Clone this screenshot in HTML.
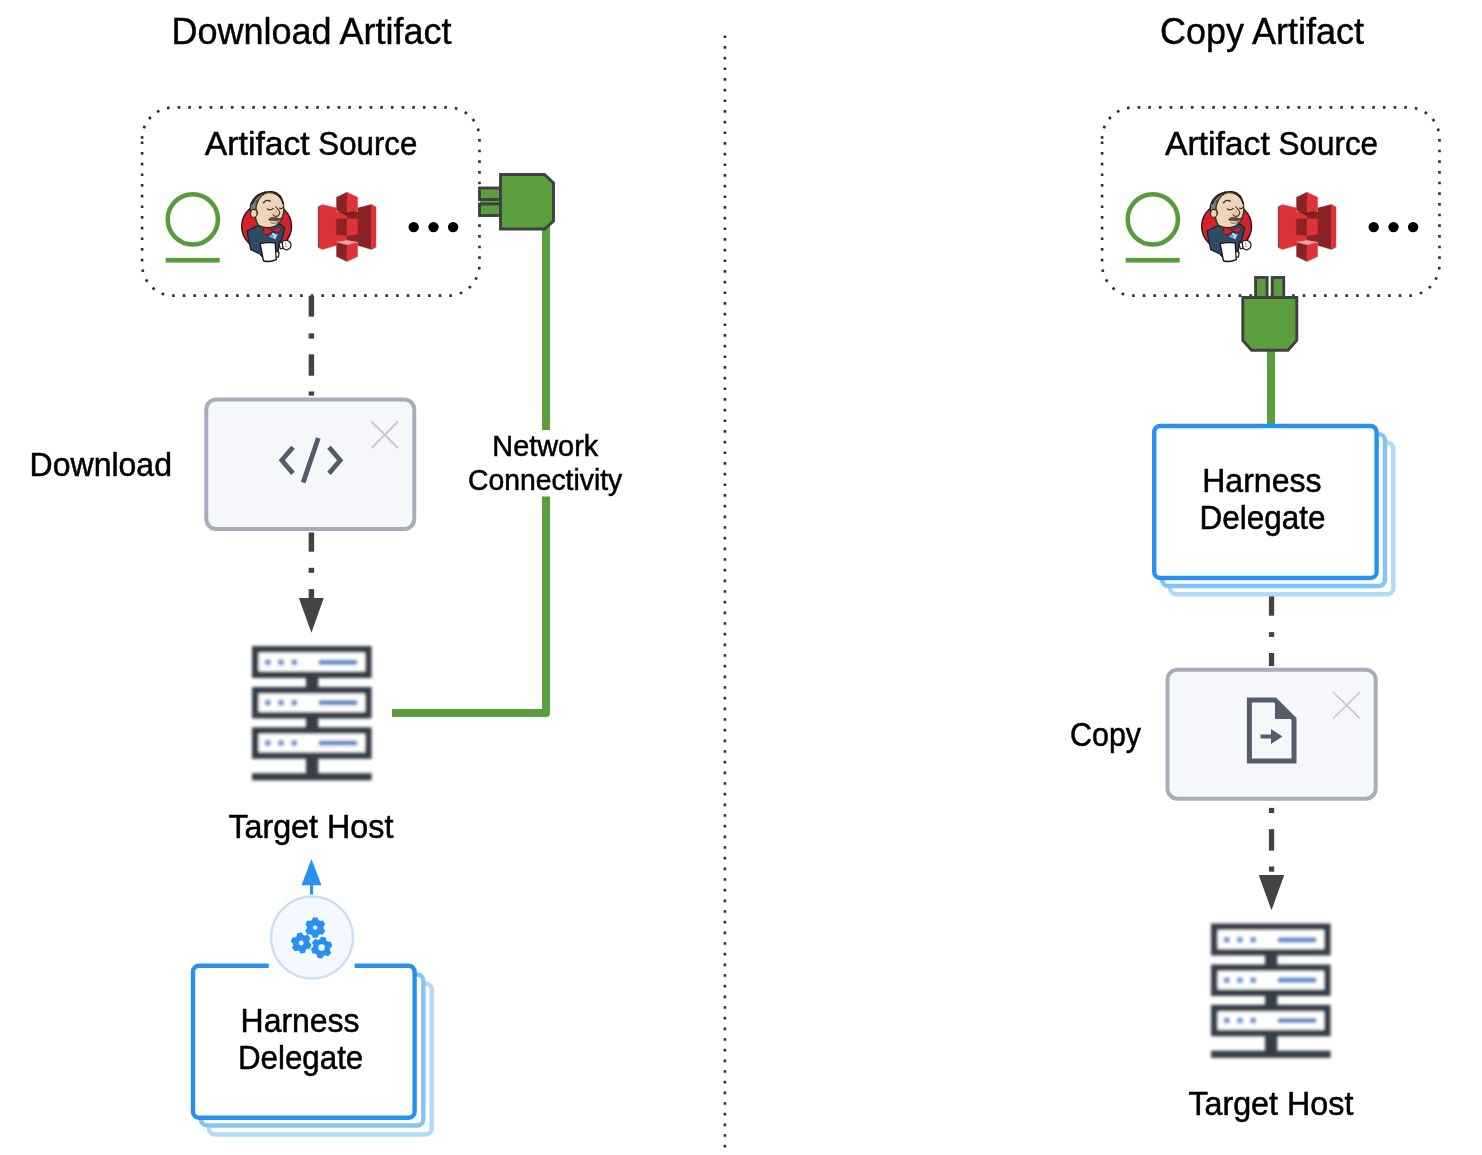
<!DOCTYPE html>
<html>
<head>
<meta charset="utf-8">
<title>Download Artifact vs Copy Artifact</title>
<style>
  html, body { margin: 0; padding: 0; background: #ffffff; }
  body { width: 1482px; height: 1155px; overflow: hidden; }
  svg { display: block; will-change: transform; }
  text { font-family: "Liberation Sans", sans-serif; fill: #000; }
  text.r { stroke: #000; stroke-width: 0.5px; }
  text.t { stroke: #000; stroke-width: 0.4px; }
</style>
</head>
<body>
<svg width="1482" height="1155" viewBox="0 0 1482 1155">
  <defs>
    <filter id="soft" x="-5%" y="-5%" width="110%" height="110%"><feGaussianBlur stdDeviation="5.5"/></filter>
    <filter id="soft3" x="-5%" y="-5%" width="110%" height="110%"><feGaussianBlur stdDeviation="0.5"/></filter>
    <filter id="soft2" x="-5%" y="-5%" width="110%" height="110%"><feGaussianBlur stdDeviation="1.35"/></filter>
    <!-- ===== reusable: artifact source icons row (drawn for left box; origin 0,0 = page origin) ===== -->
    <g id="srcbox">
      <!-- dotted rounded rectangle -->
      <path d="M142.1 138.6 V138.70000000000002 A31.3 31.3 0 0 1 173.4 107.4 H448.2 A31.3 31.3 0 0 1 479.5 138.70000000000002 V264.4 A31.3 31.3 0 0 1 448.2 295.7 H173.4 A31.3 31.3 0 0 1 142.1 264.4 Z"
            fill="none" stroke="#333333" stroke-width="2.67" stroke-dasharray="2.667 8"/>
      <!-- green ring + underline -->
      <circle cx="192.8" cy="219.3" r="25.1" fill="none" stroke="#559c3a" stroke-width="4.5"/>
      <rect x="165.7" y="257.9" width="54" height="4.7" fill="#559c3a"/>
      <!-- jenkins -->
      <g transform="translate(235,185) scale(0.07184)" filter="url(#soft)">
        <ellipse cx="440" cy="575" rx="347" ry="332" fill="#d3202f" stroke="#3a1418" stroke-width="20"/>
        <!-- suit -->
        <path d="M168 640 L330 560 L630 545 L692 600 L650 760 L610 800 L600 1000 L380 1000 L340 955 L218 900 Z" fill="#2f4b65" stroke="#182431" stroke-width="18" stroke-linejoin="round"/>
        <!-- hair back -->
        <path d="M218 390 C185 250 270 125 430 100 L360 340 Z" fill="#7f7d80" stroke="#262224" stroke-width="18" stroke-linejoin="round"/>
        <!-- head -->
        <path d="M330 560 C250 470 275 200 400 128 C500 78 645 125 678 290 C692 400 645 520 560 570 C480 602 380 602 330 560 Z" fill="#f0d6b8" stroke="#3a2a25" stroke-width="17" stroke-linejoin="round"/>
        <!-- hair top stroke -->
        <path d="M240 260 C290 130 420 82 520 97 C605 112 655 180 672 255" fill="none" stroke="#262224" stroke-width="24" stroke-linecap="round"/>
        <path d="M300 215 C282 285 298 350 318 398" fill="none" stroke="#57545a" stroke-width="16" stroke-linecap="round"/>
        <!-- ear -->
        <ellipse cx="262" cy="395" rx="46" ry="56" fill="#f0d6b8" stroke="#3a2a25" stroke-width="17"/>
        <!-- eyes / brows -->
        <path d="M395 250 C420 212 460 207 492 224" fill="none" stroke="#3a2a25" stroke-width="17" stroke-linecap="round"/>
        <path d="M448 333 C480 352 512 347 532 325" fill="none" stroke="#3a2a25" stroke-width="17" stroke-linecap="round"/>
        <path d="M618 320 C640 334 656 330 670 312" fill="none" stroke="#3a2a25" stroke-width="15" stroke-linecap="round"/>
        <!-- nose -->
        <path d="M565 300 C605 340 650 385 605 425 C572 450 540 432 528 410" fill="#e6c4a0" stroke="#5a4034" stroke-width="15" stroke-linecap="round"/>
        <!-- moustache -->
        <path d="M465 482 C498 436 560 448 602 463 C622 468 642 458 654 446 C644 494 600 504 560 498 C530 494 498 504 465 482 Z" fill="#5c473b" stroke="#5c473b" stroke-width="8"/>
        <path d="M500 524 C540 540 590 530 622 502" fill="none" stroke="#8a6a55" stroke-width="15" stroke-linecap="round"/>
        <!-- shirt -->
        <path d="M455 720 L530 665 L612 680 L565 768 Z" fill="#6fa6cf" stroke="#22364a" stroke-width="12" stroke-linejoin="round"/>
        <path d="M522 672 L560 702 L550 742" fill="none" stroke="#f4f4f4" stroke-width="18"/>
        <!-- bow tie -->
        <path d="M395 590 C440 585 480 610 520 635 C560 610 590 590 625 585 C640 610 630 645 610 655 C580 660 550 650 525 645 C500 665 450 700 415 690 C395 660 390 620 395 590 Z" fill="#d3202f" stroke="#6a0c14" stroke-width="12" stroke-linejoin="round"/>
        <!-- mug -->
        <path d="M350 815 C420 800 500 800 560 805 L575 1040 C520 1065 440 1070 395 1055 Z" fill="#ffffff" stroke="#19191d" stroke-width="20" stroke-linejoin="round"/>
        <path d="M574 925 L615 940 L605 1000 L580 1005" fill="#f2f2f2" stroke="#19191d" stroke-width="16" stroke-linejoin="round"/>
        <!-- cuff + glove -->
        <path d="M612 810 L655 795 L670 880 L632 890 Z" fill="#ffffff" stroke="#19191d" stroke-width="15" stroke-linejoin="round"/>
        <path d="M655 790 C700 760 760 770 775 810 C790 850 770 890 730 900 C700 905 675 890 668 875 Z" fill="#ffffff" stroke="#19191d" stroke-width="17" stroke-linejoin="round"/>
        <path d="M690 810 L720 830 M700 855 L725 860" stroke="#444" stroke-width="10" fill="none"/>
      </g>
      <!-- amazon s3 -->
      <g transform="translate(312,185) scale(0.07187)" filter="url(#soft)">
        <path d="M85 305 L108 290 V880 L85 865 Z" fill="#8c2328" stroke="#8c2328" stroke-width="5" stroke-linejoin="round"/>
        <path d="M108 290 L145 272 L335 318 V842 L145 897 L108 880 Z" fill="#de3239" stroke="#de3239" stroke-width="5" stroke-linejoin="round"/>
        <path d="M640 318 L830 272 V897 L640 842 Z" fill="#8c2328" stroke="#8c2328" stroke-width="5" stroke-linejoin="round"/>
        <path d="M830 272 L890 305 V865 L830 897 Z" fill="#de3239" stroke="#de3239" stroke-width="5" stroke-linejoin="round"/>
        <rect x="333" y="370" width="155" height="420" fill="#de3239" stroke="#de3239" stroke-width="5" stroke-linejoin="round"/>
        <rect x="487" y="370" width="155" height="420" fill="#8c2328" stroke="#8c2328" stroke-width="5" stroke-linejoin="round"/>
        <!-- top cube -->
        <path d="M340 170 L487 100 V388 L340 352 Z" fill="#8c2328" stroke="#8c2328" stroke-width="5" stroke-linejoin="round"/>
        <path d="M487 100 L635 170 V352 L487 388 Z" fill="#de3239" stroke="#de3239" stroke-width="5" stroke-linejoin="round"/>
        <path d="M340 352 L487 388 L635 352 L487 425 Z" fill="#7a1d22" stroke="#7a1d22" stroke-width="5" stroke-linejoin="round"/>
        <!-- middle cube -->
        <path d="M340 478 L487 465 V702 L340 690 Z" fill="#8c2328" stroke="#8c2328" stroke-width="5" stroke-linejoin="round"/>
        <path d="M487 465 L635 478 V690 L487 702 Z" fill="#de3239" stroke="#de3239" stroke-width="5" stroke-linejoin="round"/>
        <!-- bottom cube -->
        <path d="M340 800 L487 768 L635 800 L487 834 Z" fill="#f0a3a3" stroke="#f0a3a3" stroke-width="5" stroke-linejoin="round"/>
        <path d="M340 800 L487 834 V1066 L340 996 Z" fill="#8c2328" stroke="#8c2328" stroke-width="5" stroke-linejoin="round"/>
        <path d="M487 834 L635 800 V996 L487 1066 Z" fill="#de3239" stroke="#de3239" stroke-width="5" stroke-linejoin="round"/>
      </g>
      <!-- ellipsis -->
      <circle cx="413.7" cy="227.1" r="5.2" fill="#000"/>
      <circle cx="433.5" cy="227.1" r="5.2" fill="#000"/>
      <circle cx="453.1" cy="227.1" r="5.2" fill="#000"/>
    </g>

    <!-- server icon, origin at its top-left (252,646) -->
    <g id="server">
      <g filter="url(#soft2)">
        <rect x="54" y="28" width="12.3" height="102" fill="#363c47"/>
        <rect x="0" y="127.2" width="119.6" height="7.2" fill="#363c47"/>
        <g fill="#ffffff" stroke="#363c47" stroke-width="6.6">
          <rect x="3.3" y="3.3" width="113" height="25.4"/>
          <rect x="3.3" y="44.3" width="113" height="24.9"/>
          <rect x="3.3" y="84.6" width="113" height="24.9"/>
        </g>
        <g fill="#6f9bca">
          <circle cx="15.8" cy="16.3" r="3.2"/><circle cx="29" cy="16.3" r="3.2"/><circle cx="42.2" cy="16.3" r="3.2"/>
          <circle cx="15.8" cy="56.7" r="3.2"/><circle cx="29" cy="56.7" r="3.2"/><circle cx="42.2" cy="56.7" r="3.2"/>
          <circle cx="15.8" cy="97" r="3.2"/><circle cx="29" cy="97" r="3.2"/><circle cx="42.2" cy="97" r="3.2"/>
        </g>
        <g stroke="#5a8bc2" stroke-width="5.2" stroke-linecap="round">
          <line x1="69" y1="16.3" x2="103" y2="16.3"/>
          <line x1="69" y1="56.7" x2="103" y2="56.7"/>
          <line x1="69" y1="97" x2="103" y2="97"/>
        </g>
      </g>
    </g>
  </defs>

  <rect x="0" y="0" width="1482" height="1155" fill="#ffffff"/>

  <!-- centre divider -->
  <line x1="724.9" y1="35.4" x2="724.9" y2="1150" stroke="#333" stroke-width="2.7" stroke-dasharray="2.667 8.001"/>

  <!-- ================= LEFT: Download Artifact ================= -->
  <text class="t" transform="matrix(1 0 0 1.035 0 -1.536)" x="171.4" y="43.9" font-size="36">Download Artifact</text>

  <use href="#srcbox"/>
  <text class="r" transform="matrix(1 0 0 1.03 0 -4.644)" x="204.80" y="154.8" font-size="32" textLength="104.94" lengthAdjust="spacingAndGlyphs">Artifact</text><text class="r" transform="matrix(1 0 0 1.03 0 -4.644)" x="318.36" y="154.8" font-size="32" textLength="98.92" lengthAdjust="spacingAndGlyphs">Source</text>

  <!-- green connectivity line -->
  <path d="M546 226 V713 H392" fill="none" stroke="#5b9e3d" stroke-width="8" stroke-linejoin="round"/>
  <!-- plug (side) -->
  <g stroke="#404040" stroke-width="2.9" fill="#5b9e3d" stroke-linejoin="miter">
    <rect x="480" y="196" width="20" height="10" stroke="none"/>
    <rect x="479.5" y="188" width="21" height="11.5"/>
    <rect x="479.5" y="204" width="21" height="11.5"/>
    <path d="M500.5 174.5 H544.5 L553.5 183 V221 L544.5 229 H500.5 Z"/>
  </g>
  <!-- label background + label -->
  <rect x="466" y="430" width="160" height="66.5" fill="#ffffff"/>
  <text class="r" transform="matrix(1 0 0 1.03 0 -13.668)" x="492.35" y="455.6" font-size="27.8" textLength="105.89" lengthAdjust="spacingAndGlyphs">Network</text>
  <text class="r" transform="matrix(1 0 0 1.03 0 -14.715)" x="467.98" y="490.5" font-size="27.8" textLength="154.25" lengthAdjust="spacingAndGlyphs">Connectivity</text>

  <!-- dash-dot arrow: source -> download -> host -->
  <g fill="#434345"><rect x="308.65" y="295.8" width="5.5" height="20.8"/><rect x="308.65" y="333.3" width="5.5" height="5.3"/><rect x="308.65" y="354.3" width="5.5" height="21.4"/><rect x="308.65" y="391.5" width="5.5" height="4.1"/><rect x="308.65" y="532.5" width="5.5" height="19.2"/><rect x="308.65" y="567.8" width="5.5" height="5.0"/><rect x="308.65" y="589.1" width="5.5" height="9.5"/>
    <path d="M298.9 598.1 H323.8 L311.4 632.7 Z"/></g>

  <!-- download step box -->
  <g filter="url(#soft3)">
  <rect x="206.3" y="399.5" width="208" height="129.5" rx="10" ry="10" fill="#f5f7fb" stroke="#a7adba" stroke-width="4"/>
  <g fill="none" stroke="#535a68" stroke-width="4.8" stroke-linecap="butt" stroke-linejoin="miter">
    <path d="M293 447.2 L281.8 460.3 L293 473.4"/>
    <path d="M329 447.2 L340.2 460.3 L329 473.4"/>
    <path d="M318.3 438 L303.2 482.5"/>
  </g>
  <path d="M371.5 421.5 L398 448 M398 421.5 L371.5 448" stroke="#c6c9d1" stroke-width="1.8" fill="none"/>
    </g>
  <text class="r" transform="matrix(1 0 0 1.03 0 -14.271)" x="29.62" y="475.7" font-size="32" textLength="142.36" lengthAdjust="spacingAndGlyphs">Download</text>

  <!-- target host -->
  <use href="#server" x="252" y="646"/>
  <text class="r" transform="matrix(1 0 0 1.03 0 -25.134)" x="228.41" y="837.8" font-size="32" textLength="89.59" lengthAdjust="spacingAndGlyphs">Target</text><text class="r" transform="matrix(1 0 0 1.03 0 -25.134)" x="327.00" y="837.8" font-size="32" textLength="66.39" lengthAdjust="spacingAndGlyphs">Host</text>

  <!-- delegate (stacked) -->
  <g fill="#ffffff" stroke-width="4.4">
    <rect x="209" y="983.5" width="222.7" height="151" rx="6" stroke="#afdafa"/>
    <rect x="201" y="974.5" width="222.3" height="151" rx="6" stroke="#84c4f7"/>
    <rect x="193" y="965.8" width="221.6" height="151.9" rx="6" stroke="#2890f0"/>
  </g>
  <rect x="268.7" y="894" width="86" height="90" fill="#ffffff"/>
  <circle cx="312" cy="937.5" r="41" fill="#f3f9fe" stroke="#c8dff6" stroke-width="2.4"/>
<g fill="#2890f0" stroke="#2890f0" stroke-width="1.6" stroke-linejoin="round" fill-rule="evenodd">
  <path d="M312.78 920.40 L313.30 918.19 L317.10 918.19 L317.62 920.40 L320.23 921.90 L322.40 921.25 L324.30 924.54 L322.65 926.10 L322.65 929.10 L324.30 930.66 L322.40 933.95 L320.23 933.30 L317.62 934.80 L317.10 937.01 L313.30 937.01 L312.78 934.80 L310.17 933.30 L308.00 933.95 L306.10 930.66 L307.75 929.10 L307.75 926.10 L306.10 924.54 L308.00 921.25 L310.17 921.90 Z M318.20 927.60 A3.0 3.0 0 1 0 312.20 927.60 A3.0 3.0 0 1 0 318.20 927.60 Z"/>
  <path d="M297.56 936.33 L297.70 934.06 L301.43 933.40 L302.34 935.49 L305.16 936.51 L307.19 935.50 L309.63 938.40 L308.28 940.23 L308.80 943.19 L310.69 944.44 L309.39 948.00 L307.14 947.74 L304.84 949.67 L304.70 951.94 L300.97 952.60 L300.06 950.51 L297.24 949.49 L295.21 950.50 L292.77 947.60 L294.12 945.77 L293.60 942.81 L291.71 941.56 L293.01 938.00 L295.26 938.26 Z M304.40 943.00 A3.2 3.2 0 1 0 298.00 943.00 A3.2 3.2 0 1 0 304.40 943.00 Z"/>
  <path d="M320.42 939.79 L321.36 937.60 L325.25 938.29 L325.38 940.66 L327.77 942.67 L330.14 942.39 L331.49 946.10 L329.50 947.41 L328.96 950.48 L330.38 952.39 L327.84 955.42 L325.72 954.34 L322.78 955.41 L321.84 957.60 L317.95 956.91 L317.82 954.54 L315.43 952.53 L313.06 952.81 L311.71 949.10 L313.70 947.79 L314.24 944.72 L312.82 942.81 L315.36 939.78 L317.48 940.86 Z M325.70 947.60 A4.1 4.1 0 1 0 317.50 947.60 A4.1 4.1 0 1 0 325.70 947.60 Z"/>
</g>
  <path d="M311.5 859 L321.5 885.2 H301.5 Z" fill="#2890f0"/>
  <rect x="310" y="884" width="3" height="10.5" fill="#2890f0"/>
  <text class="r" transform="matrix(1 0 0 1.03 0 -30.957)" x="240.58" y="1031.9" font-size="32" textLength="118.99" lengthAdjust="spacingAndGlyphs">Harness</text>
  <text class="r" transform="matrix(1 0 0 1.03 0 -32.058)" x="238.00" y="1068.6" font-size="32" textLength="125.28" lengthAdjust="spacingAndGlyphs">Delegate</text>

  <!-- ================= RIGHT: Copy Artifact ================= -->
  <text class="t" transform="matrix(1 0 0 1.035 0 -1.536)" x="1159.9" y="43.9" font-size="36">Copy Artifact</text>

  <use href="#srcbox" x="960" y="0"/>
  <text class="r" transform="matrix(1 0 0 1.03 0 -4.647)" x="1164.89" y="154.9" font-size="32" textLength="104.99" lengthAdjust="spacingAndGlyphs">Artifact</text><text class="r" transform="matrix(1 0 0 1.03 0 -4.647)" x="1278.62" y="154.9" font-size="32" textLength="99.48" lengthAdjust="spacingAndGlyphs">Source</text>

  <!-- plug (down) + green line -->
  <line x1="1271" y1="350" x2="1271" y2="425" stroke="#5b9e3d" stroke-width="8"/>
  <g stroke="#404040" stroke-width="2.9" fill="#5b9e3d" stroke-linejoin="miter">
    <rect x="1255.6" y="277.5" width="11.5" height="20"/>
    <rect x="1272.2" y="277.5" width="11.5" height="20"/>
    <path d="M1242.8 297.5 H1296.8 V340.5 L1288 350.3 H1251.6 L1242.8 340.5 Z"/>
  </g>

  <rect x="1268.9" y="590" width="5.3" height="25.7" fill="#434345"/>
  <!-- delegate (stacked) -->
  <g fill="#ffffff" stroke-width="4.4">
    <rect x="1170.2" y="442.8" width="223.1" height="151.4" rx="6" stroke="#afdafa"/>
    <rect x="1162.2" y="434.2" width="222.8" height="151.8" rx="6" stroke="#84c4f7"/>
    <rect x="1154.2" y="426" width="222.4" height="152" rx="6" stroke="#2890f0"/>
  </g>
  <text class="r" transform="matrix(1 0 0 1.03 0 -14.757)" x="1202.22" y="491.9" font-size="32" textLength="119.28" lengthAdjust="spacingAndGlyphs">Harness</text>
  <text class="r" transform="matrix(1 0 0 1.03 0 -15.858)" x="1199.43" y="528.6" font-size="32" textLength="126.01" lengthAdjust="spacingAndGlyphs">Delegate</text>

  <!-- dash-dot arrow -->
  <g fill="#434345"><rect x="1268.9" y="632.1" width="5.3" height="4.8"/><rect x="1268.9" y="653" width="5.3" height="13.1"/><rect x="1268.9" y="807.9" width="5.3" height="5.1"/><rect x="1268.9" y="829.1" width="5.3" height="21.5"/><rect x="1268.9" y="866.5" width="5.3" height="5.2"/>
    <path d="M1258.7 875 H1284.2 L1271.5 910.3 Z"/></g>

  <!-- copy step box -->
  <g filter="url(#soft3)">
  <rect x="1167.5" y="669.7" width="208.2" height="129" rx="10" ry="10" fill="#f5f7fb" stroke="#a7adba" stroke-width="4"/>
  <g>
    <path d="M1249.4 700 H1275 L1294 719 V761 H1249.4 Z" fill="none" stroke="#555d6b" stroke-width="5" stroke-linejoin="miter"/>
    <path d="M1275 699 L1295 719 H1275 Z" fill="#555d6b"/>
    <path d="M1260.5 734.5 H1271 V729 L1282.5 736.5 L1271 744 V738.5 H1260.5 Z" fill="#555d6b"/>
  </g>
  <path d="M1333 692 L1360 718.5 M1360 692 L1333 718.5" stroke="#c3c7cf" stroke-width="1.7" fill="none"/>
    </g>
  <text class="r" transform="matrix(1 0 0 1.03 0 -22.380)" x="1070.06" y="746.0" font-size="32" textLength="71.05" lengthAdjust="spacingAndGlyphs">Copy</text>

  <!-- target host -->
  <use href="#server" x="1211" y="923.5"/>
  <text class="r" transform="matrix(1 0 0 1.03 0 -33.465)" x="1188.41" y="1115.5" font-size="32" textLength="89.59" lengthAdjust="spacingAndGlyphs">Target</text><text class="r" transform="matrix(1 0 0 1.03 0 -33.465)" x="1287.00" y="1115.5" font-size="32" textLength="66.39" lengthAdjust="spacingAndGlyphs">Host</text>
</svg>
</body>
</html>
